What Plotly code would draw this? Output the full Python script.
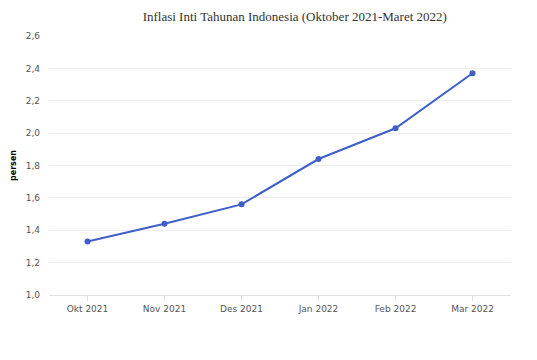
import plotly.graph_objects as go

months = ["Okt 2021", "Nov 2021", "Des 2021", "Jan 2022", "Feb 2022", "Mar 2022"]
inflasi_inti = [1.33, 1.44, 1.56, 1.84, 2.03, 2.37]
y_ticks = [1.0, 1.2, 1.4, 1.6, 1.8, 2.0, 2.2, 2.4, 2.6]

fig = go.Figure()
fig.add_trace(go.Scatter(
    x=months, y=inflasi_inti, mode="lines+markers",
    line=dict(color="#3f5fc8", width=2),
    marker=dict(color="#3f5fc8", size=6),
    hoverinfo="x+y",
))

fig.update_layout(
    width=537, height=360,
    margin=dict(l=41, r=34, t=28, b=73, autoexpand=False),
    paper_bgcolor="white", plot_bgcolor="white",
    separators=",.",
    showlegend=False,
    title=dict(text="Inflasi Inti Tahunan Indonesia (Oktober 2021-Maret 2022)",
               x=0.532, xanchor="center", xref="paper", y=1.0, yanchor="top",
               pad=dict(t=4, b=0, l=0, r=0),
               font=dict(family="Liberation Serif", size=13, color="#333333")),
    font=dict(family="DejaVu Sans", size=9, color="#555555"),
    xaxis=dict(type="category", showgrid=False, showline=True, linecolor="#e0e0e0",
               linewidth=1, ticks="outside", ticklen=5, tickcolor="#e0e0e0",
               tickfont=dict(size=9, color="#555555"), range=[-0.5, 5.5], automargin=False),
    yaxis=dict(range=[1.0, 2.6], tickvals=y_ticks, tickformat=".1f",
               showgrid=True, gridcolor="#eeeeee", gridwidth=1, zeroline=False,
               showline=False, ticks="", ticklabelstandoff=8, automargin=False,
               tickfont=dict(size=9, color="#555555"),
               title=dict(text="<b>persen</b>", font=dict(size=8, color="#000000"), standoff=7)),
)

fig.write_html("out.html")
